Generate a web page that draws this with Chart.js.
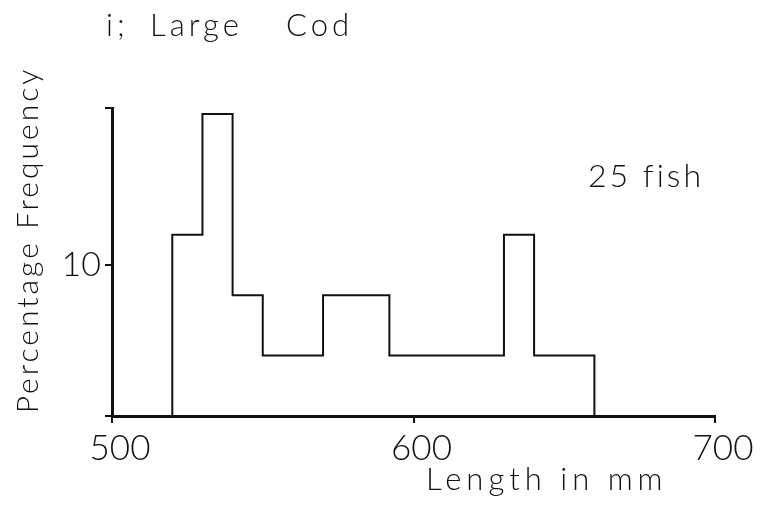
<!DOCTYPE html>
<html>
<head>
<meta charset="utf-8">
<script src="https://cdn.jsdelivr.net/npm/chart.js@4"></script>
<style>
  html, body { margin: 0; padding: 0; background: #fff; }
  #wrap { width: 762px; height: 505px; position: relative; }
</style>
</head>
<body>
<div id="wrap"><canvas id="cod"></canvas></div>
<script>
// bin edges (mm) and percentage of fish in each bin
const binEdges = [520, 530, 540, 550, 570, 592, 630, 640, 660];
const binPercent = [12, 20, 8, 4, 8, 4, 12, 4];
const xTicks = [500, 600, 700];
const yLabelled = [10];

const FONT = 'Lato, "Open Sans", sans-serif';

// outline of the histogram: each point opens a bin at its height
const outline = [{ x: binEdges[0], y: 0 }];
binPercent.forEach((p, i) => outline.push({ x: binEdges[i], y: p }));
outline.push({ x: binEdges[binEdges.length - 1], y: 0 });

const labelsPlugin = {
  id: 'labels',
  afterDraw(chart) {
    const ctx = chart.ctx;
    ctx.save();
    ctx.fillStyle = '#111';
    ctx.textBaseline = 'alphabetic';
    ctx.textAlign = 'left';

    ctx.font = `300 31px ${FONT}`;
    ctx.letterSpacing = '4px';
    ctx.fillText('i;', 106, 36);
    ctx.fillText('Large', 150, 36);
    ctx.fillText('Cod', 286, 36);

    ctx.font = `300 32px ${FONT}`;
    ctx.letterSpacing = '3px';
    ctx.fillText('25 fish', 588, 187);

    ctx.font = `300 31px ${FONT}`;
    ctx.letterSpacing = '5px';
    ctx.fillText('Length in mm', 426, 490);

    ctx.font = `300 30px ${FONT}`;
    ctx.letterSpacing = '3px';
    ctx.translate(38, 240);
    ctx.rotate(-Math.PI / 2);
    ctx.textAlign = 'center';
    ctx.fillText('Percentage Frequency', 0, 0);
    ctx.restore();
  }
};

new Chart(document.getElementById('cod'), {
  type: 'line',
  data: {
    datasets: [{
      data: outline,
      stepped: 'before',
      borderColor: '#111',
      borderWidth: 2,
      pointRadius: 0,
      fill: false,
    }]
  },
  options: {
    responsive: true,
    maintainAspectRatio: false,
    animation: false,
    layout: { padding: { top: 108, right: 47, left: 0, bottom: 0 } },
    plugins: { legend: { display: false }, tooltip: { enabled: false } },
    scales: {
      x: {
        type: 'linear', min: 500, max: 700,
        afterBuildTicks: s => { s.ticks = xTicks.map(v => ({ value: v })); },
        afterFit: s => { s.height = 89; },
        border: { color: '#111', width: 3 },
        grid: { drawOnChartArea: false, color: '#111', lineWidth: 2, tickLength: 7 },
        ticks: { color: '#111', padding: 5, labelOffset: 8, font: { family: FONT, size: 35, weight: 300 } },
      },
      y: {
        min: 0, max: 20.4,
        afterBuildTicks: s => { s.ticks = [0, 10, 20.4].map(v => ({ value: v })); },
        afterFit: s => { s.width = 112; },
        border: { color: '#111', width: 3 },
        grid: { drawOnChartArea: false, color: '#111', lineWidth: 2, tickLength: 7 },
        ticks: {
          color: '#111', padding: 4,
          font: { family: FONT, size: 34, weight: 300 },
          callback: v => yLabelled.includes(v) ? String(v) : '',
        },
      },
    },
  },
  plugins: [labelsPlugin],
});
</script>
</body>
</html>
